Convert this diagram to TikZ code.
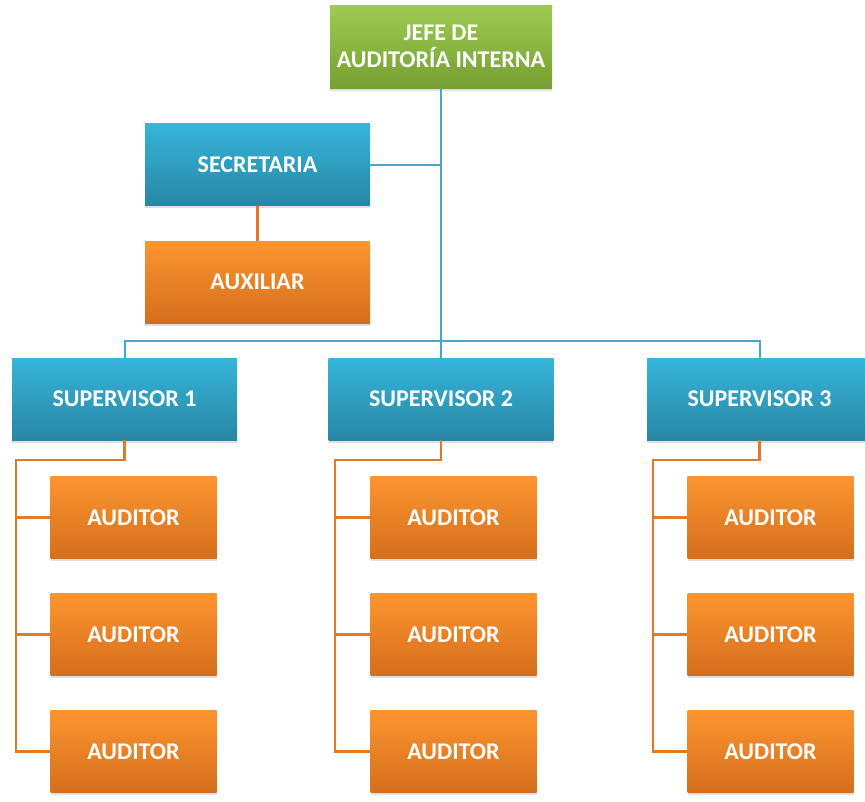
\documentclass[tikz,border=0pt]{standalone}
\usepackage{fontspec}
\setmainfont{Carlito}
\usetikzlibrary{shadows}

\definecolor{grnTop}{HTML}{9DCB52}
\definecolor{grnBot}{HTML}{76A032}
\definecolor{bluTop}{HTML}{36B5DA}
\definecolor{bluBot}{HTML}{2886A4}
\definecolor{orgTop}{HTML}{FC952F}
\definecolor{orgBot}{HTML}{D56E1C}
\definecolor{bluLine}{HTML}{44AACB}
\definecolor{orgLine}{HTML}{DF7A27}

\tikzset{
  unit/.style={rectangle, inner sep=0pt, align=center, text=white,
    font=\bfseries\fontsize{24}{27}\selectfont,
    drop shadow={shadow xshift=0pt, shadow yshift=-2.5pt, opacity=0.25, fill=black!50}},
  headbox/.style={unit, top color=grnTop, bottom color=grnBot,
    minimum width=222pt, minimum height=83pt},
  bluebox/.style={unit, top color=bluTop, bottom color=bluBot,
    minimum width=225pt, minimum height=82pt},
  staffbox/.style={unit, top color=orgTop, bottom color=orgBot,
    minimum width=225pt, minimum height=82pt},
  auditbox/.style={unit, top color=orgTop, bottom color=orgBot,
    minimum width=166pt, minimum height=82pt},
  blink/.style={draw=bluLine, line width=2pt},
  olink/.style={draw=orgLine, line width=2.2pt},
}

\begin{document}
\begin{tikzpicture}[x=1pt, y=-1pt]
  \useasboundingbox (0,0) rectangle (865,801);

  % boxes
  \node[headbox] (jefe) at (441,46.5) {JEFE DE\\AUDITORÍA INTERNA};
  \node[bluebox] (sec) at (257.5,164.5) {SECRETARIA};
  \node[staffbox] (aux) at (257.5,282) {AUXILIAR};

  \node[bluebox] (sup1) at (124.5,399) {SUPERVISOR 1};
  \node[bluebox] (sup2) at (441,399) {SUPERVISOR 2};
  \node[bluebox] (sup3) at (759.5,399) {SUPERVISOR 3};

  \foreach \g/\cx in {1/133.5, 2/453.5, 3/770.5}{
    \node[auditbox] (a\g1) at (\cx,517.5) {AUDITOR};
    \node[auditbox] (a\g2) at (\cx,634.5) {AUDITOR};
    \node[auditbox] (a\g3) at (\cx,751.5) {AUDITOR};
  }

  % junction points of the blue tree
  \coordinate (trunk) at (sec.east -| jefe.south);
  \coordinate (barL) at (124.5,341);
  \coordinate (barR) at (759.5,341);

  % blue links
  \draw[blink] (jefe.south) -- (jefe.south |- sup2.north);
  \draw[blink] (sec.east) -- (trunk);
  \draw[blink] (sup1.north) -- (barL) -- (barR) -- (sup3.north);

  % orange links
  \draw[olink] (sec.south) -- (aux.north);
  \foreach \g/\vx in {1/16, 2/335, 3/653}{
    \draw[olink] (sup\g.south) -- ++(0,20) -| (\vx,0 |- a\g3.west) -- (a\g3.west);
    \draw[olink] (\vx,0 |- a\g1.west) -- (a\g1.west);
    \draw[olink] (\vx,0 |- a\g2.west) -- (a\g2.west);
  }
\end{tikzpicture}
\end{document}
